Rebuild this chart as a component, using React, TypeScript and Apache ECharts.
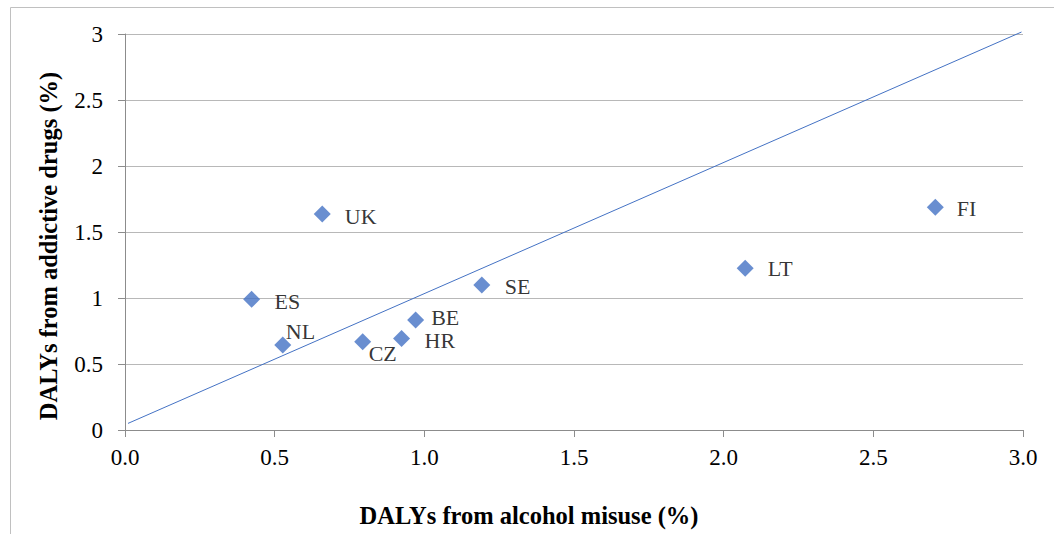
import React, { useEffect, useRef } from "react";
import * as echarts from "echarts";

const countries = ["UK", "ES", "NL", "CZ", "HR", "BE", "SE", "LT", "FI"];
const alcoholDalys = [0.659, 0.423, 0.527, 0.794, 0.924, 0.971, 1.192, 2.072, 2.707];
const drugDalys = [1.636, 0.99, 0.644, 0.669, 0.694, 0.833, 1.098, 1.225, 1.687];
const refLineX = [0.01, 2.995];
const refLineY = [0.05, 3.015];
const xAxisTitle = "DALYs from alcohol misuse (%)";
const yAxisTitle = "DALYs from addictive drugs (%)";

// label placement (pixel offsets relative to the right side of each marker)
const labelOffsets: Record<string, [number, number]> = {
  UK: [14, 2.5],
  ES: [14.5, 2.4],
  NL: [-5.5, -13.3],
  CZ: [-2.5, 11.6],
  HR: [14.5, 2.4],
  BE: [7, -2.4],
  SE: [14.5, 1.7],
  LT: [14, -0.3],
  FI: [13, 0.7],
};

const FONT = "'Liberation Serif', 'Times New Roman', serif";
const BLUE = "#4472C4";

export default function App() {
  const ref = useRef<HTMLDivElement>(null);
  useEffect(() => {
    if (!ref.current) return;
    const chart = echarts.init(ref.current, null, { renderer: "svg" });
    const points = countries.map((c, i) => ({
      name: c,
      value: [alcoholDalys[i], drugDalys[i]],
      label: {
        show: true,
        formatter: c,
        position: "right",
        distance: 0,
        offset: labelOffsets[c],
      },
    }));
    chart.setOption({
      animation: false,
      backgroundColor: "#ffffff",
      textStyle: { fontFamily: FONT },
      graphic: [
        {
          type: "rect",
          shape: { x: 10.5, y: 7.5, width: 1200, height: 700 },
          style: { fill: "none", stroke: "#c0c0c0", lineWidth: 1 },
          silent: true,
          z: -10,
        },
        {
          type: "text",
          x: 529,
          y: 515,
          style: {
            text: xAxisTitle,
            font: `bold 24.5px ${FONT}`,
            fill: "#000",
            align: "center",
            verticalAlign: "middle",
          },
          silent: true,
        },
        {
          type: "text",
          x: 48,
          y: 246,
          rotation: Math.PI / 2,
          style: {
            text: yAxisTitle,
            font: `bold 24.5px ${FONT}`,
            fill: "#000",
            align: "center",
            verticalAlign: "middle",
          },
          silent: true,
        },
      ],
      grid: {
        left: 125,
        right: 31,
        top: 34,
        bottom: 104,
        containLabel: false,
        outerBoundsMode: "none",
      },
      xAxis: {
        type: "value",
        min: 0,
        max: 3,
        interval: 0.5,
        axisLine: { show: true, lineStyle: { color: "#8c8c8c", width: 1 } },
        axisTick: { show: true, length: 7, lineStyle: { color: "#8c8c8c" } },
        axisLabel: {
          margin: 16,
          fontFamily: FONT,
          fontSize: 23,
          color: "#000",
          formatter: (v: number) => v.toFixed(1),
        },
        splitLine: { show: false },
      },
      yAxis: {
        type: "value",
        min: 0,
        max: 3,
        interval: 0.5,
        axisLine: { show: true, lineStyle: { color: "#8c8c8c", width: 1 } },
        axisTick: { show: true, length: 7, lineStyle: { color: "#8c8c8c" } },
        axisLabel: {
          margin: 22,
          fontFamily: FONT,
          fontSize: 23,
          color: "#000",
          formatter: (v: number) => String(v),
        },
        splitLine: { show: true, lineStyle: { color: "#b8b8b8", width: 1 } },
      },
      series: [
        {
          type: "line",
          data: refLineX.map((x, i) => [x, refLineY[i]]),
          showSymbol: false,
          symbol: "none",
          clip: false,
          lineStyle: { color: BLUE, width: 1 },
          z: 1,
          silent: true,
        },
        {
          type: "scatter",
          data: points,
          symbol: "diamond",
          symbolSize: [17, 17],
          itemStyle: { color: BLUE },
          label: {
            fontFamily: FONT,
            fontSize: 22,
            color: "#000",
          },
          z: 3,
        },
      ],
    });
    return () => chart.dispose();
  }, []);
  return <div ref={ref} style={{ width: 1054, height: 534, position: "absolute", left: 0, top: 0 }} />;
}
